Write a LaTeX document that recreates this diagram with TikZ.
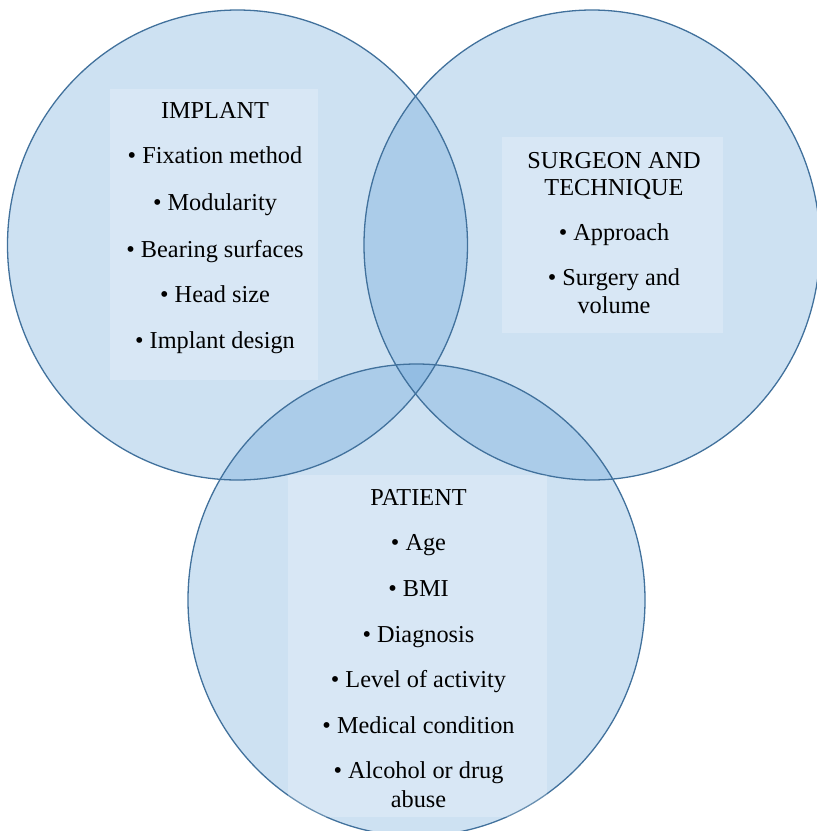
\documentclass[tikz,border=0pt]{standalone}
\usepackage{fontspec}
\setmainfont{Liberation Serif}
\definecolor{cfill}{HTML}{5B9BD5}
\definecolor{cline}{HTML}{41719C}
\begin{document}
\begin{tikzpicture}[x=1pt,y=-1pt,
  vennfill/.style={fill=cfill, fill opacity=0.3, draw=none},
  vennline/.style={draw=cline, line width=1.3pt},
  tbox/.style={fill=white, fill opacity=0.22, draw=none},
  lbl/.style={anchor=base, inner sep=0pt, font=\fontsize{24.3}{28}\selectfont, text=black}]
\useasboundingbox (0,0) rectangle (817,831);
% circles: fills first
\fill[vennfill] (237.5,245) ellipse [x radius=230pt, y radius=235pt];
\fill[vennfill] (592,245) ellipse [x radius=228pt, y radius=235pt];
\fill[vennfill] (416.5,600) ellipse [x radius=228.5pt, y radius=236pt];
% outlines
\draw[vennline] (237.5,245) ellipse [x radius=230pt, y radius=235pt];
\draw[vennline] (592,245) ellipse [x radius=228pt, y radius=235pt];
\draw[vennline] (416.5,600) ellipse [x radius=228.5pt, y radius=236pt];
% text boxes
\fill[tbox] (110,89) rectangle (318,380);
\fill[tbox] (502,137) rectangle (723,333);
\fill[tbox] (288,475) rectangle (547,817);
% IMPLANT
\node[lbl] (i0) at (215,118) {IMPLANT};
\node[lbl] (i1) at (215,163) {• Fixation method};
\node[lbl] (i2) at (215,210) {• Modularity};
\node[lbl] (i3) at (215,257) {• Bearing surfaces};
\node[lbl] (i4) at (215,302) {• Head size};
\node[lbl] (i5) at (215,348) {• Implant design};
% SURGEON
\node[lbl] (s0a) at (614,168) {SURGEON AND};
\node[lbl] (s0b) at (614,195) {TECHNIQUE};
\node[lbl] (s1) at (614,240) {• Approach};
\node[lbl] (s2a) at (614,285) {• Surgery and};
\node[lbl] (s2b) at (614,313) {volume};
% PATIENT
\node[lbl] (p0) at (418.5,505) {PATIENT};
\node[lbl] (p1) at (418.5,550) {• Age};
\node[lbl] (p2) at (418.5,596) {• BMI};
\node[lbl] (p3) at (418.5,642) {• Diagnosis};
\node[lbl] (p4) at (418.5,687) {• Level of activity};
\node[lbl] (p5) at (418.5,733) {• Medical condition};
\node[lbl] (p6a) at (418.5,778) {• Alcohol or drug};
\node[lbl] (p6b) at (418.5,807) {abuse};
\end{tikzpicture}
\end{document}
